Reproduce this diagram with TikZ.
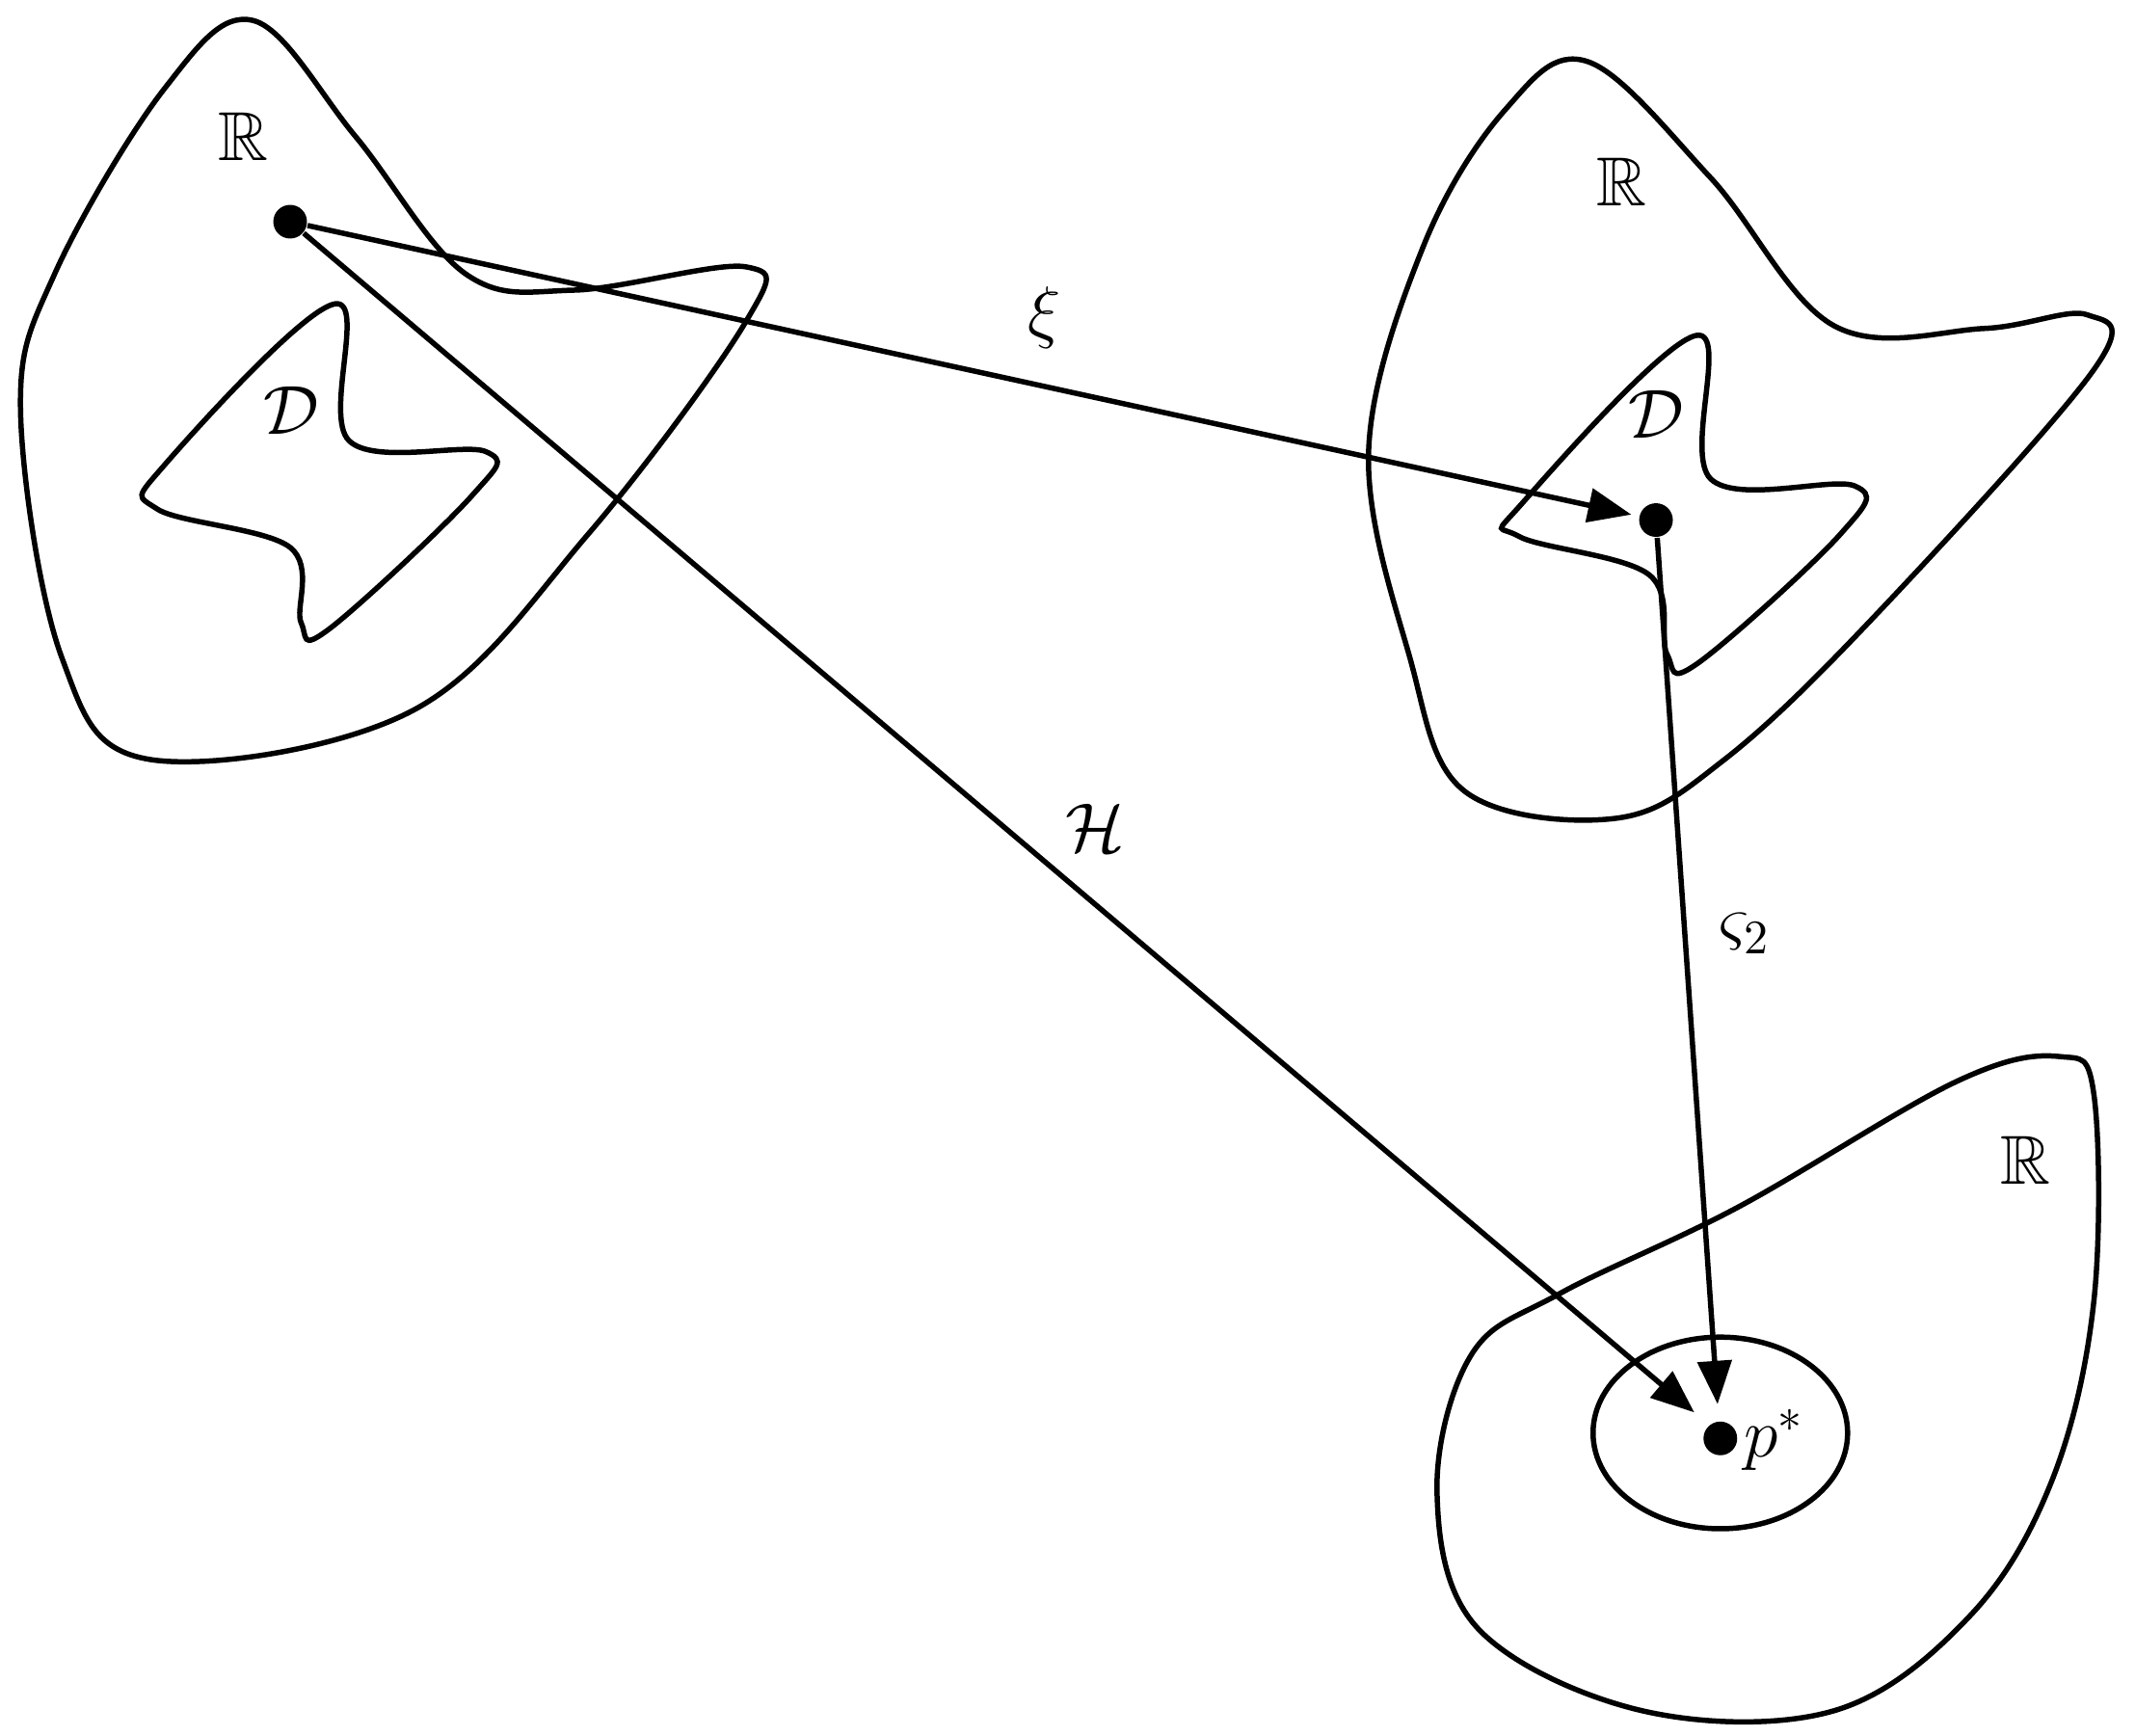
\documentclass[tikz,border=0pt]{standalone}
\usepackage{amssymb}
\usetikzlibrary{arrows.meta}
\begin{document}
\begin{tikzpicture}[x=0.01cm,y=-0.01cm,
 blob/.style={line width=1.1pt,smooth cycle,tension=0.6},
 arr/.style={line width=1.1pt,-{Triangle[length=9pt,width=7pt]}},
 dot/.style={circle,fill=black,inner sep=0pt,minimum size=7pt},
 lbl/.style={font=\Large}]
\useasboundingbox (0,0) rectangle (1560,1268);
\draw[blob] plot coordinates {(185,15) (260,100) (340,200) (420,212) (545,195) (545,235) (430,390) (300,520) (110,555) (45,480) (15,300) (40,200) (120,65)};
\draw[blob] plot coordinates {(245,222) (255,322) (355,330) (345,362) (240,460) (220,455) (212,400) (115,372) (120,340)};
\draw[blob] plot coordinates {(1160,45) (1250,130) (1340,238) (1450,240) (1525,230) (1530,270) (1370,450) (1260,555) (1180,598) (1070,578) (1030,480) (1000,330) (1040,180) (1100,80)};
\draw[blob] plot coordinates {(1240,245) (1250,350) (1355,355) (1345,390) (1240,485) (1218,478) (1205,420) (1110,392) (1112,368)};
\draw[blob] plot coordinates {(1505,772) (1530,800) (1530,950) (1500,1080) (1440,1180) (1340,1250) (1200,1250) (1080,1190) (1050,1090) (1075,990) (1140,945) (1270,882) (1430,790)};
\draw[line width=1.1pt] (1257,1047) ellipse [x radius=93, y radius=70];
\node[dot] (a) at (212,162) {};
\node[dot] (b) at (1210,380) {};
\node[dot] (c) at (1257,1051) {};
\coordinate (bE) at (1192,376);
\coordinate (cH) at (1238,1032);
\coordinate (cV) at (1255,1026);
\draw[arr] (a) -- (bE);
\draw[arr] (a) -- (cH);
\draw[arr] (b) -- (cV);
\node[lbl] (xi) at (763,232) {$\xi$};
\node[lbl] (H) at (800,605) {$\mathcal{H}$};
\node[lbl] (s2) at (1275,682) {$\varsigma_2$};
\node[lbl] (r1) at (178,100) {$\mathbb{R}$};
\node[lbl] (r2) at (1185,133) {$\mathbb{R}$};
\node[lbl] (r3) at (1480,848) {$\mathbb{R}$};
\node[lbl] (d1) at (213,300) {$\mathcal{D}$};
\node[lbl] (d2) at (1210,303) {$\mathcal{D}$};
\node[lbl,anchor=west] (p) at (1262,1052) {$p^*$};
\end{tikzpicture}
\end{document}
